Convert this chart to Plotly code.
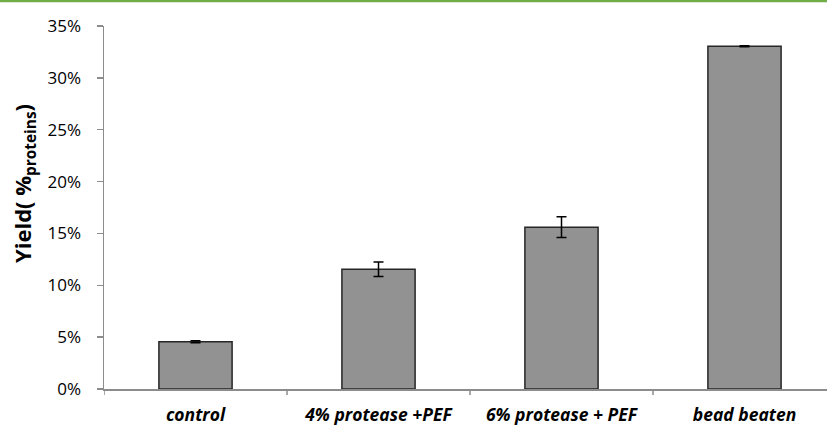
import plotly.graph_objects as go

categories = ["control", "4% protease +PEF", "6% protease + PEF", "bead beaten"]
yield_pct = [4.55, 11.55, 15.6, 33.05]
error_pct = [0.1, 0.7, 1.0, 0.05]
y_ticks = [0, 5, 10, 15, 20, 25, 30, 35]
y_tick_labels = [f"{v}%" for v in y_ticks]

W, H = 827, 425
left, top, bottom = 104, 26, 36
cat_w = 183.0
plot_w = W - left
plot_h = H - top - bottom
x_max = -0.5 + plot_w / cat_w
FONT = "Open Sans, DejaVu Sans, sans-serif"

fig = go.Figure()
fig.add_trace(go.Bar(
    x=list(range(len(categories))),
    y=yield_pct,
    width=0.4,
    marker=dict(color="#929292", line=dict(color="#262626", width=1.5)),
    error_y=dict(type="data", array=error_pct, visible=True,
                 color="#000000", thickness=1.5, width=5),
    hoverinfo="skip",
))

fig.update_layout(
    width=W, height=H,
    margin=dict(l=left, r=0, t=top, b=bottom, pad=0),
    paper_bgcolor="white", plot_bgcolor="white",
    showlegend=False,
    bargap=0,
    font=dict(family=FONT, color="#000000"),
    xaxis=dict(
        range=[-0.5, x_max],
        tickmode="array",
        tickvals=list(range(len(categories))),
        ticktext=[f"<b><i>{c}</i></b>" for c in categories],
        tickfont=dict(size=17.5, family=FONT),
        showline=True, linecolor="#8c8c8c", linewidth=1.5,
        ticks="", showgrid=False, zeroline=False,
        ticklabelstandoff=9,
    ),
    yaxis=dict(
        range=[0, 35],
        tickmode="array", tickvals=y_ticks, ticktext=y_tick_labels,
        tickfont=dict(size=17, family=FONT),
        showline=True, linecolor="#8c8c8c", linewidth=1.5,
        ticks="outside", ticklen=6, tickcolor="#8c8c8c", tickwidth=1.5,
        showgrid=False, zeroline=False,
        ticklabelstandoff=12,
    ),
)

# category boundary tick marks on x axis
for i in range(len(categories)):
    fig.add_shape(type="line", xref="x", yref="paper",
                  x0=i - 0.5, x1=i - 0.5, y0=0, y1=-6 / plot_h,
                  line=dict(color="#8c8c8c", width=1.5))

# y axis title with subscript
fig.add_annotation(
    text="<b>Yield( %<sub>proteins</sub>)</b>",
    xref="paper", yref="paper", x=(24 - left) / plot_w, y=(389 - 184) / plot_h,
    xanchor="center", yanchor="middle", textangle=-90,
    showarrow=False, font=dict(size=22, family=FONT),
)

# green top border line
gy = 1 + (top - 1) / plot_h
fig.add_shape(type="line", xref="paper", yref="paper",
              x0=-0.2, x1=1.0, y0=gy, y1=gy,
              line=dict(color="#70AD47", width=2.5))

fig.write_html("out.html", config={"displayModeBar": False, "staticPlot": True},
               post_script="document.body.style.margin='0';document.body.style.padding='0';")
